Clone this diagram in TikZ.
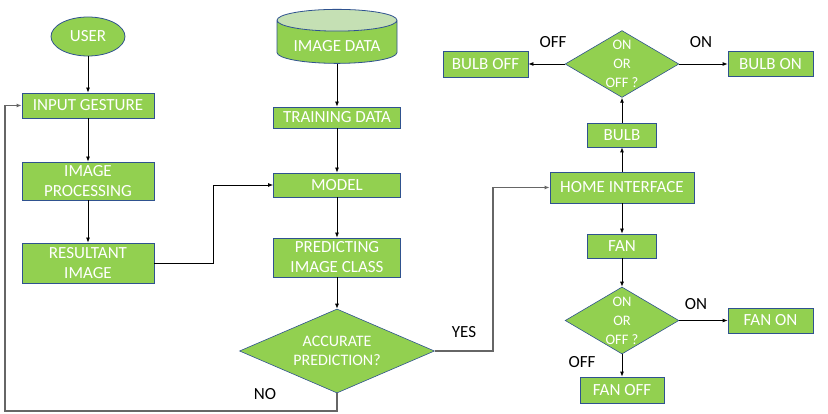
\documentclass[tikz,border=0pt]{standalone}
\usepackage{fontspec}
\setmainfont{Carlito}
\usetikzlibrary{shapes.geometric,arrows.meta}
\definecolor{boxgreen}{HTML}{92D050}
\definecolor{boxblue}{HTML}{2F528F}
\definecolor{toplight}{HTML}{C5E0B4}
\definecolor{loopgray}{HTML}{666666}

\begin{document}
\begin{tikzpicture}[x=1pt, y=-1pt,
    box/.style={draw=boxblue, fill=boxgreen, rectangle, line width=0.8pt, inner sep=0pt, text=white, align=center, font=\fontsize{17}{20}\selectfont},
    decide/.style={draw=boxblue, fill=boxgreen, diamond, aspect=1.7, line width=0.6pt, inner sep=0pt, text=white, align=center, font=\fontsize{14.5}{19}\selectfont},
    flow/.style={-{Latex[length=5pt,width=4pt]}, line width=0.8pt},
    back/.style={flow, draw=loopgray, line width=1.2pt},
    lbl/.style={font=\fontsize{17}{20}\selectfont}]
    \useasboundingbox (0,0) rectangle (828,414);

    % Gesture input column
    \node[ellipse, draw=boxblue, fill=boxgreen, line width=0.8pt, inner sep=0pt, text=white, minimum width=74pt, minimum height=39pt, font=\fontsize{17}{20}\selectfont] (user) at (88,36.5) {USER};
    \node[box, minimum width=132pt, minimum height=25pt] (input) at (88,105.5) {INPUT GESTURE};
    \node[box, minimum width=132pt, minimum height=38pt] (proc) at (88,181) {IMAGE\\PROCESSING};
    \node[box, minimum width=132pt, minimum height=40pt] (res) at (88,263) {RESULTANT\\IMAGE};

    % Training column
    \node[cylinder, shape border rotate=90, aspect=0.25, draw=boxblue, line width=0.8pt, cylinder uses custom fill, cylinder body fill=boxgreen, cylinder end fill=toplight, inner sep=0pt, text=white, text height=19pt, text depth=0pt, minimum width=120pt, minimum height=54pt, font=\fontsize{17}{20}\selectfont] (imgdata) at (337,42) {IMAGE DATA};
    \node[box, minimum width=127pt, minimum height=21pt] (train) at (337,117.5) {TRAINING DATA};
    \node[box, minimum width=127pt, minimum height=24pt] (model) at (337,185) {MODEL};
    \node[box, minimum width=127pt, minimum height=39pt] (pred) at (337,257.5) {PREDICTING\\IMAGE CLASS};
    \node[decide, minimum width=195pt, minimum height=84pt, font=\fontsize{16}{19}\selectfont] (acc) at (337,351) {ACCURATE\\PREDICTION?};

    % Home interface column
    \node[box, minimum width=144pt, minimum height=31pt] (home) at (622,187.5) {HOME INTERFACE};
    \node[box, minimum width=69pt, minimum height=24pt] (bulb) at (622,135) {BULB};
    \node[decide, minimum width=110pt, minimum height=66pt] (bulbq) at (622,64) {ON\\OR\\OFF ?};
    \node[box, minimum width=85pt, minimum height=26pt] (bulboff) at (485.5,64) {BULB OFF};
    \node[box, minimum width=85pt, minimum height=25pt] (bulbon) at (770.5,64) {BULB ON};
    \node[box, minimum width=69pt, minimum height=24pt] (fan) at (622,246) {FAN};
    \node[decide, minimum width=110pt, minimum height=67pt] (fanq) at (622,320.5) {ON\\OR\\OFF ?};
    \node[box, minimum width=85pt, minimum height=25pt] (fanon) at (770.5,320.5) {FAN ON};
    \node[box, minimum width=84pt, minimum height=26pt] (fanoff) at (622,390) {FAN OFF};

    % Branch labels
    \node[lbl] (bulbofflbl) at (553,42) {OFF};
    \node[lbl] (bulbonlbl) at (701,42) {ON};
    \node[lbl] (fanonlbl) at (696,304) {ON};
    \node[lbl] (fanofflbl) at (582,362) {OFF};
    \node[lbl] (yeslbl) at (464,332) {YES};
    \node[lbl] (nolbl) at (265,394) {NO};

    % Turning points
    \coordinate (resturn) at (213,0);
    \coordinate (yesturn) at (493,0);
    \coordinate (noturn) at (5,411);

    % Connections
    \draw[flow] (user) -- (input);
    \draw[flow] (input) -- (proc);
    \draw[flow] (proc) -- (res);
    \draw[flow] (res.east) -- (res.east -| resturn) |- (model.west);
    \draw[flow] (imgdata) -- (train);
    \draw[flow] (train) -- (model);
    \draw[flow] (model) -- (pred);
    \draw[flow] (pred) -- (acc);
    \draw[back] (acc.east) -- (acc.east -| yesturn) |- (home.west);
    \draw[back] (acc.south) |- (noturn) |- (input.west);
    \draw[flow] (home) -- (bulb);
    \draw[flow] (bulb) -- (bulbq);
    \draw[flow] (bulbq) -- (bulboff);
    \draw[flow] (bulbq) -- (bulbon);
    \draw[flow] (home) -- (fan);
    \draw[flow] (fan) -- (fanq);
    \draw[flow] (fanq) -- (fanon);
    \draw[flow] (fanq) -- (fanoff);
\end{tikzpicture}
\end{document}
